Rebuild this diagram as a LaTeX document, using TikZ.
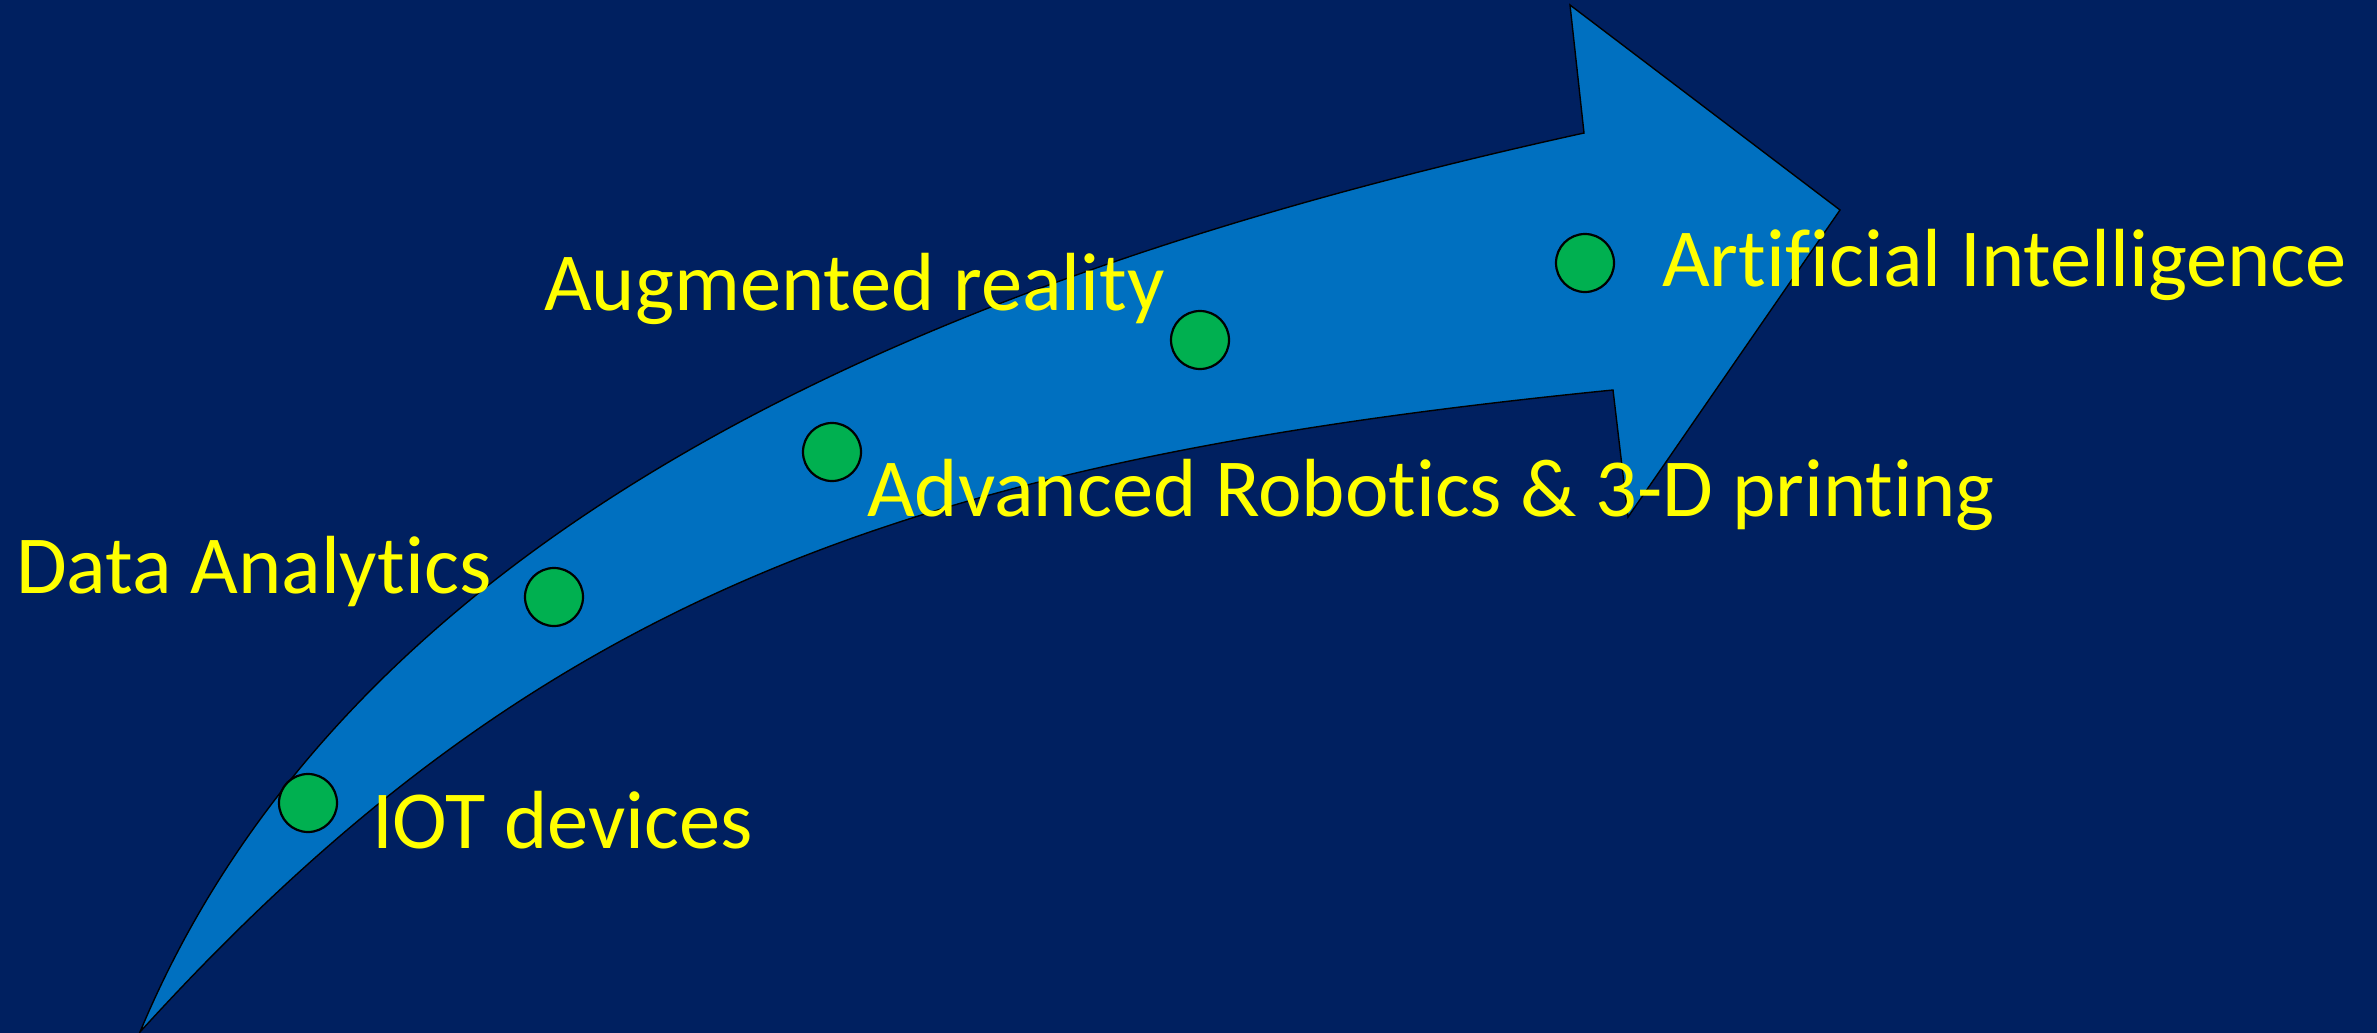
\documentclass[tikz,border=0pt]{standalone}
\usepackage{fontspec}
\setmainfont{Carlito}[Ligatures={NoCommon}]
\definecolor{bgnavy}{HTML}{002060}
\definecolor{arrowblue}{HTML}{0070C0}
\definecolor{dotgreen}{HTML}{00B050}
\definecolor{labelyellow}{HTML}{FFFF00}
\tikzset{
  arrowbody/.style={fill=arrowblue, draw=black, line width=1.4pt, line join=miter},
  dot/.style={circle, fill=dotgreen, draw=black, line width=2.2pt, minimum size=58pt, inner sep=0pt},
  lbl/.style={anchor=base west, inner sep=0pt, text=labelyellow, font=\fontsize{82.5}{99}\selectfont}
}
\begin{document}
\begin{tikzpicture}[x=1pt,y=-1pt]
\fill[bgnavy] (0,0) rectangle (2377,1033);
\useasboundingbox (0,0) rectangle (2377,1033);
% curved arrow
\draw[arrowbody]
  (140,1032) .. controls (370,480) and (1034,254) .. (1584,133)
  -- (1570,5) -- (1840,210) -- (1628,517) -- (1613,390)
  .. controls (913,460) and (540,592) .. (140,1032)
  -- cycle;
% dots
\node[dot] (d1) at (308,803) {};
\node[dot] (d2) at (554,597) {};
\node[dot] (d3) at (832,452) {};
\node[dot] (d4) at (1200,340) {};
\node[dot] (d5) at (1585,263) {};
% labels
\node[lbl] (l1) at (372,848) {IOT devices};
\node[lbl] (l2) at (16,593) {Data Analytics};
\node[lbl] (l3) at (867,516) {Advanced Robotics \& 3-D printing};
\node[lbl] (l4) at (544,310) {Augmented reality};
\node[lbl] (l5) at (1662,286) {Artificial Intelligence};
\end{tikzpicture}
\end{document}
